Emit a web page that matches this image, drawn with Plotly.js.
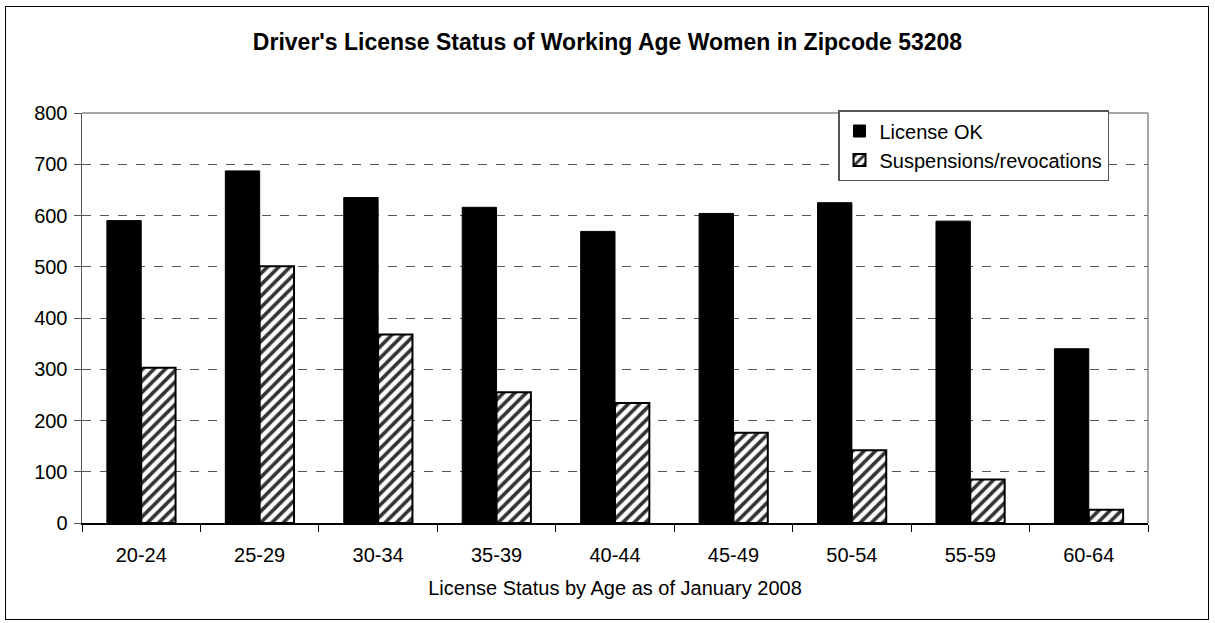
<!DOCTYPE html>
<html>
<head>
<meta charset="utf-8">
<script src="https://cdn.plot.ly/plotly-3.0.1.min.js"></script>
<style>
  html, body { margin: 0; padding: 0; background: #fff; }
  #wrap { position: relative; width: 1215px; height: 623px; }
  #chart { width: 1215px; height: 623px; }
  #frame { position: absolute; left: 5px; top: 6px; width: 1202px; height: 612px;
           border: 1.5px solid #000; pointer-events: none; }
</style>
</head>
<body>
<div id="wrap">
  <div id="chart"></div>
  <div id="frame"></div>
</div>
<script>
const categories = ["20-24", "25-29", "30-34", "35-39", "40-44", "45-49", "50-54", "55-59", "60-64"];
const licenseOK = [590, 687, 635, 616, 569, 604, 625, 589, 340];
const suspensions = [303, 501, 368, 255, 234, 176, 142, 85, 26];
const seriesNames = ["License OK", "Suspensions/revocations"];
const yTicks = [0, 100, 200, 300, 400, 500, 600, 700, 800];

const FONT = "Liberation Sans, Arial, Helvetica, sans-serif";

const traces = [
  {
    type: "bar",
    name: seriesNames[0],
    x: categories,
    y: licenseOK,
    legendgroup: "a",
    marker: { color: "#000000", line: { color: "#000000", width: 1 } },
    hoverinfo: "x+y+name"
  },
  {
    type: "bar",
    name: seriesNames[1],
    x: categories,
    y: suspensions,
    legendgroup: "b",
    marker: {
      color: "#ffffff",
      line: { color: "#000000", width: 2 },
      pattern: { shape: "/", fgcolor: "#333333", bgcolor: "#ffffff", size: 8, solidity: 0.45 }
    },
    hoverinfo: "x+y+name"
  }
];

const layout = {
  width: 1215,
  height: 623,
  margin: { l: 82, r: 67, t: 113, b: 100 },
  paper_bgcolor: "#ffffff",
  plot_bgcolor: "#ffffff",
  font: { family: FONT, size: 20, color: "#000000" },
  barmode: "group",
  bargap: 0.42,
  bargroupgap: 0,
  title: {
    text: "<b>Driver's License Status of Working Age Women in Zipcode 53208</b>",
    font: { family: FONT, size: 23, color: "#000000" },
    x: 0.5, xanchor: "center",
    y: 1 - 42 / 623, yanchor: "middle", yref: "container"
  },
  xaxis: {
    type: "category",
    showgrid: false,
    showline: true,
    linecolor: "#000000",
    linewidth: 1.5,
    ticks: "outside",
    tickson: "boundaries",
    ticklen: 7,
    tickcolor: "#000000",
    tickwidth: 1,
    ticklabelstandoff: 13,
    tickfont: { family: FONT, size: 20, color: "#000000" },
    title: {
      text: "License Status by Age as of January 2008",
      font: { family: FONT, size: 20, color: "#000000" },
      standoff: 16
    },
    zeroline: false,
    fixedrange: true
  },
  yaxis: {
    range: [0, 800],
    tickvals: yTicks,
    ticktext: yTicks.map(String),
    showgrid: true,
    gridcolor: "#555555",
    gridwidth: 1,
    griddash: "dash",
    showline: true,
    linecolor: "#555555",
    linewidth: 1.5,
    ticks: "outside",
    ticklen: 7,
    tickcolor: "#555555",
    tickwidth: 1,
    ticklabelstandoff: 2,
    tickfont: { family: FONT, size: 20, color: "#000000" },
    zeroline: false,
    fixedrange: true
  },
  shapes: [
    { type: "line", xref: "paper", yref: "paper", x0: 0, x1: 1, y0: 1, y1: 1,
      line: { color: "#888888", width: 1.5 }, layer: "above" },
    { type: "line", xref: "paper", yref: "paper", x0: 1, x1: 1, y0: 0, y1: 1,
      line: { color: "#888888", width: 1.5 }, layer: "above" }
  ],
  legend: {
    x: (1109 - 82) / 1066,
    xanchor: "right",
    y: (523 - 110) / 410,
    yanchor: "top",
    bgcolor: "#ffffff",
    bordercolor: "#555555",
    borderwidth: 1.5,
    font: { family: FONT, size: 20, color: "#000000" },
    traceorder: "grouped",
    tracegroupgap: 0,
    itemwidth: 30
  },
  showlegend: true
};

Plotly.newPlot("chart", traces, layout, { displayModeBar: false, staticPlot: true });
</script>
</body>
</html>
